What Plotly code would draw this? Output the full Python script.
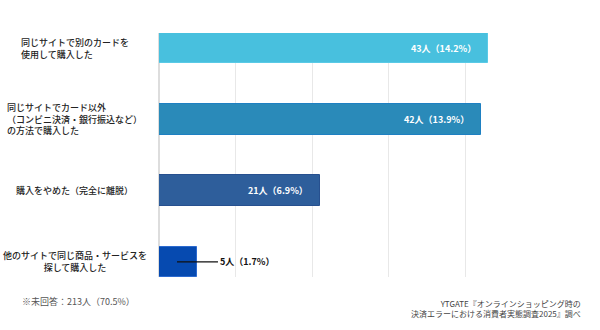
import plotly.graph_objects as go

categories = [
    "同じサイトで別のカードを<br>使用して購入した",
    "同じサイトでカード以外<br>（コンビニ決済・銀行振込など）<br>の方法で購入した",
    "購入をやめた（完全に離脱）",
    "他のサイトで同じ商品・サービスを<br>探して購入した",
]
label_align = ["left", "left", "center", "center"]
counts = [43, 42, 21, 5]
percents = [14.2, 13.9, 6.9, 1.7]
colors = ["#48C0DE", "#2A8AB9", "#2E5E9B", "#064AB0"]
border_colors = ["#5ACAE6", "#1E80C2", "#27508F", "#2C6ACF"]
note = "※未回答：213人（70.5%）"
source = "YTGATE『オンラインショッピング時の<br>決済エラーにおける消費者実態調査2025』調べ"

FONT = "Noto Sans CJK JP"
ys = list(range(len(categories)))

fig = go.Figure()
fig.add_trace(go.Bar(
    x=counts, y=ys, orientation="h", width=0.427,
    marker=dict(color=colors, line=dict(color=border_colors, width=1)),
    hoverinfo="skip",
))

for i, (c, p) in enumerate(zip(counts, percents)):
    txt = f"<b>{c}人（{p}%）</b>"
    if c >= 10:
        fig.add_annotation(x=c, y=i, xref="x", yref="y", text=txt, showarrow=False,
                           xanchor="right", xshift=-10,
                           font=dict(family=FONT, size=9, color="white"))
    else:
        fig.add_annotation(x=c + 2.7, y=i, xref="x", yref="y", text=txt, showarrow=False,
                           xanchor="left",
                           font=dict(family=FONT, size=9, color="#111"))
        fig.add_shape(type="line", xref="x", yref="y", x0=c * 0.47, x1=c + 2.7,
                      y0=i, y1=i, line=dict(color="#111", width=1.2))

for i, (cat, al) in enumerate(zip(categories, label_align)):
    fig.add_annotation(x=-0.22, y=i, xref="paper", yref="y", text=cat, showarrow=False,
                       xanchor="center", align=al,
                       font=dict(family=FONT, size=9, color="#222", weight=500))

fig.add_annotation(x=(20 - 159) / 383.5, y=-(301 - 277) / 244, xref="paper", yref="paper",
                   text=note, showarrow=False, xanchor="left", yanchor="middle",
                   font=dict(family=FONT, size=9, color="#555"))
fig.add_annotation(x=(584 - 159) / 383.5, y=-(308.5 - 277) / 244, xref="paper", yref="paper",
                   text=source, showarrow=False, xanchor="right", yanchor="middle", align="right",
                   font=dict(family=FONT, size=8, color="#444"))

fig.update_layout(
    width=600, height=330,
    margin=dict(l=159, r=57.5, t=33, b=53),
    paper_bgcolor="white", plot_bgcolor="white",
    showlegend=False,
    bargap=0,
    xaxis=dict(range=[0, 50], dtick=10, showgrid=True, gridcolor="#E8E8E8", gridwidth=1.2,
               zeroline=True, zerolinecolor="#DDDDDD", zerolinewidth=1.5,
               showticklabels=False, ticks="", showline=False, fixedrange=True),
    yaxis=dict(range=[3.2135, -0.2135], showticklabels=False, showgrid=False,
               zeroline=False, ticks="", showline=False, fixedrange=True),
)

fig.write_html("out.html", config={"displayModeBar": False})
